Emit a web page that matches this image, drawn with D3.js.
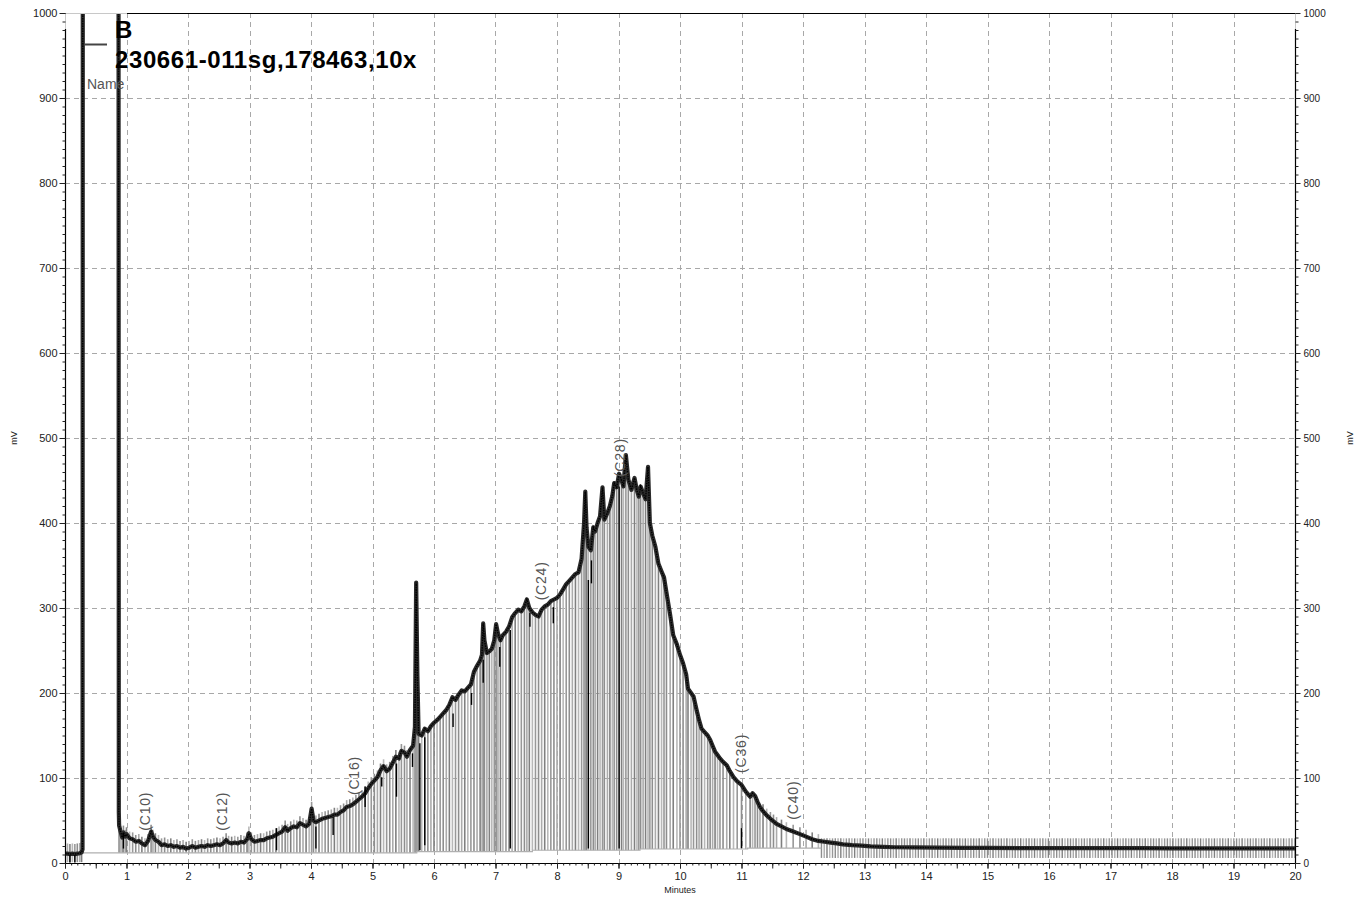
<!DOCTYPE html>
<html><head><meta charset="utf-8">
<script src="https://cdn.jsdelivr.net/npm/d3@7"></script>
<style>body{margin:0;background:#fff;} svg{display:block;font-family:"Liberation Sans",Arial,sans-serif;}</style>
</head><body><svg id="c" width="1365" height="902"></svg>
<script>
// ---- data (minutes, mV) ----
const sigTime = [0.00,0.04,0.08,0.12,0.16,0.20,0.24,0.27,0.285,0.29,0.87,0.875,0.88,0.90,0.93,0.95,0.98,1.00,1.05,1.10,1.15,1.20,1.25,1.30,1.35,1.40,1.43,1.47,1.52,1.57,1.62,1.67,1.72,1.77,1.82,1.87,1.92,1.97,2.02,2.07,2.12,2.17,2.22,2.27,2.32,2.37,2.42,2.47,2.52,2.57,2.62,2.66,2.71,2.76,2.81,2.86,2.91,2.96,2.99,3.03,3.08,3.13,3.18,3.23,3.28,3.33,3.38,3.43,3.48,3.53,3.58,3.62,3.67,3.72,3.77,3.82,3.87,3.92,3.97,4.01,4.04,4.08,4.13,4.18,4.23,4.28,4.33,4.38,4.43,4.48,4.53,4.58,4.63,4.68,4.73,4.78,4.83,4.88,4.93,4.98,5.03,5.08,5.13,5.18,5.23,5.28,5.33,5.38,5.43,5.47,5.52,5.56,5.61,5.66,5.69,5.71,5.73,5.75,5.80,5.85,5.90,5.95,6.00,6.05,6.10,6.15,6.20,6.25,6.30,6.35,6.40,6.45,6.50,6.55,6.60,6.65,6.70,6.75,6.78,6.80,6.82,6.86,6.90,6.94,6.98,7.01,7.04,7.08,7.12,7.17,7.22,7.27,7.32,7.37,7.42,7.47,7.51,7.55,7.60,7.65,7.70,7.75,7.80,7.85,7.90,7.95,8.00,8.05,8.10,8.15,8.20,8.25,8.30,8.35,8.40,8.44,8.46,8.48,8.51,8.55,8.59,8.62,8.66,8.70,8.74,8.77,8.82,8.86,8.90,8.93,8.97,9.01,9.05,9.08,9.12,9.16,9.21,9.26,9.30,9.33,9.36,9.40,9.44,9.48,9.51,9.55,9.60,9.65,9.70,9.74,9.78,9.84,9.89,9.95,10.00,10.05,10.10,10.13,10.18,10.22,10.27,10.31,10.35,10.40,10.45,10.49,10.53,10.57,10.61,10.65,10.70,10.76,10.81,10.87,10.93,11.00,11.07,11.14,11.18,11.22,11.26,11.30,11.35,11.41,11.47,11.52,11.57,11.65,11.73,11.84,11.95,12.05,12.15,12.25,12.35,12.45,12.55,12.65,12.80,12.95,13.10,13.30,13.50,13.80,14.20,14.60,15.00,15.50,16.00,16.50,17.00,17.50,18.00,18.50,19.00,19.50,20.00];
const sigMv = [11,11,10.5,11,10.5,11,11.5,12.5,16,1200,1200,60,44,38,30,36,31,34,29,28,25,26,23,21,26,37,31,27,25,21,22,20,21,19,20,18,19,17,18,20,18,19,20,19,21,20,21,22,21,23,27,24,23,24,23,25,24,28,35,28,25,26,27,27,29,30,31,33,35,37,42,38,41,43,42,47,45,43,46,64,50,48,50,52,53,54,55,57,57,60,62,66,67,69,72,75,78,82,88,93,97,101,109,114,108,111,118,125,123,132,130,125,133,138,160,330,220,152,150,158,155,161,165,168,172,176,180,186,195,192,198,203,202,206,210,225,232,238,245,282,262,247,249,252,262,281,270,262,268,272,278,289,294,298,296,302,310,300,295,292,290,298,302,304,308,310,312,316,322,328,332,336,340,342,358,400,437,395,372,368,395,390,400,408,442,404,412,420,432,447,442,458,450,443,480,451,439,453,438,431,443,435,428,466,400,385,372,352,343,336,318,292,268,257,245,235,222,205,200,196,180,168,158,154,150,145,138,131,127,123,119,115,108,101,96,92,84,78,82,79,72,66,61,56,52,49,46,43,40,37,34,31,28,26,25,24,23,22,21,20.5,19.5,19,18.5,18.3,18,17.8,17.7,17.6,17.5,17.5,17.4,17.4,17.3,17.3,17.2,17.2,17.2];

// integration baseline (step changes)
const baseTime = [0.28,5.72,7.60,9.35,11.10];
const baseMv   = [12,13.5,15,16.5,17.6];

// peak event markers (black)
const markTime = [0.08,0.16,0.95,3.44,4.08,4.36,4.88,5.15,5.39,5.65,5.77,5.85,6.31,6.61,6.80,7.07,7.24,7.56,7.94,8.51,8.56,9.01,11.00];
const markLo   = [0.5,0.5,17,15,17,33,66,90,78,113,15,21,160,186,212,231,17,278,282,17,329,17,17.6];
const markHi   = [9.5,9.5,35,41,43,54,90,101,117,129,141,148,176,200,239,254,274,294,301,333,356,443,41];

// tail hatch band (mV)
const hatchBand = [6, 29];

// compound labels
const peakNames = ["(C10)","(C12)","(C16)","(C24)","(C28)","(C36)","(C40)"];
const peakTimes = [1.30,2.55,4.70,7.74,9.02,10.99,11.84];
const peakLabelMv = [38,38,80,309,454,106,51];

// axes
const xTickValues = d3.range(0, 21, 1);
const yTickValues = d3.range(0, 1001, 100);
const legendTitle = "B";
const legendSample = "230661-011sg,178463,10x";
const legendName = "Name";

// ---- drawing ----
const svg = d3.select("#c");
const x = d3.scaleLinear([0, 20], [65, 1295]);
const y = d3.scaleLinear([0, 1000], [863, 13]);

svg.append("defs").append("clipPath").attr("id","plot")
  .append("rect").attr("x",65).attr("y",13).attr("width",1230).attr("height",850);

// grid
const grid = svg.append("g").attr("stroke","#a8a8a8").attr("stroke-dasharray","5,4").attr("stroke-width",1);
xTickValues.filter(d => d > 0 && d < 20).forEach(d => {
  grid.append("line").attr("x1",Math.round(x(d))+0.5).attr("x2",Math.round(x(d))+0.5).attr("y1",y(1000)).attr("y2",y(0));
});
yTickValues.filter(d => d > 0 && d < 1000).forEach(d => {
  grid.append("line").attr("y1",Math.round(y(d))+0.5).attr("y2",Math.round(y(d))+0.5).attr("x1",x(0)).attr("x2",x(20));
});

const plot = svg.append("g").attr("clip-path","url(#plot)");

function baseAt(t){
  let v = baseMv[0];
  for (let i = 0; i < baseTime.length; i++) if (t >= baseTime[i]) v = baseMv[i];
  return v;
}
const grays = ["#8e8e8e","#ababab","#808080","#b8b8b8","#989898"];

// tail hatch
const hatchT = d3.range(12.3, 20.0, 0.045);
plot.append("g").selectAll("line").data(hatchT).join("line")
  .attr("x1", d => x(d)).attr("x2", d => x(d))
  .attr("y1", y(hatchBand[0])).attr("y2", y(hatchBand[1]))
  .attr("stroke", (d,i) => grays[i % grays.length]).attr("stroke-width", 1.4);

// drop lines
const drops = sigTime.map((t,i) => ({t, v: sigMv[i], i})).filter(d => d.v < 1000 && d.t <= 12.3 && !(d.t > 0.27 && d.t < 0.88));
plot.append("g").selectAll("line").data(drops).join("line")
  .attr("x1", d => x(d.t)).attr("x2", d => x(d.t))
  .attr("y1", d => d.t < 0.28 ? y(1) : y(baseAt(d.t)))
  .attr("y2", d => d.t < 0.28 ? y(d.v + 12) : y(d.v + ((d.t < 5.6 || d.t > 11.3) ? 8 : 0)))
  .attr("stroke", d => grays[d.i % grays.length]).attr("stroke-width", 1.6);

// baseline
const basePts = baseTime.map((t,i) => [t, baseMv[i]]).concat([[12.3, baseMv[baseMv.length-1]]]);
plot.append("path").datum(basePts)
  .attr("d", d3.line().x(d => x(d[0])).y(d => y(d[1])).curve(d3.curveStepAfter))
  .attr("fill","none").attr("stroke","#b0b0b0").attr("stroke-width",1.2);

// signal
const sigPts = sigTime.map((t,i) => [t, sigMv[i]]);
const line = d3.line().x(d => x(d[0])).y(d => y(d[1]));
plot.append("path").datum(sigPts).attr("d", line)
  .attr("fill","none").attr("stroke","#2a2a2a").attr("stroke-width",4.2).attr("stroke-linejoin","round");
plot.append("path").datum(sigPts).attr("d", line)
  .attr("fill","none").attr("stroke","#000").attr("stroke-width",1.4).attr("stroke-dasharray","1.5,1");

// markers
plot.append("g").selectAll("line").data(markTime).join("line")
  .attr("x1", d => x(d)).attr("x2", d => x(d))
  .attr("y1", (d,i) => y(markLo[i])).attr("y2", (d,i) => y(markHi[i]))
  .attr("stroke","#000").attr("stroke-width",1.4);

// peak labels
svg.append("g").selectAll("text").data(peakNames).join("text")
  .attr("transform", (d,i) => `translate(${x(peakTimes[i])},${y(peakLabelMv[i])}) rotate(-90)`)
  .attr("dy","0.35em").attr("font-size",14).attr("fill","#555").attr("letter-spacing","0.8")
  .text(d => d);

// frame
svg.append("line").attr("x1",65).attr("x2",127).attr("y1",13.5).attr("y2",13.5).attr("stroke","#c8c8c8");
svg.append("line").attr("x1",127).attr("x2",1295).attr("y1",13.5).attr("y2",13.5).attr("stroke","#000").attr("stroke-width",1.2);
svg.append("line").attr("x1",65.5).attr("x2",65.5).attr("y1",13).attr("y2",29).attr("stroke","#c8c8c8");
svg.append("line").attr("x1",65.5).attr("x2",65.5).attr("y1",29).attr("y2",863).attr("stroke","#000").attr("stroke-width",1.2);
svg.append("line").attr("x1",1295.5).attr("x2",1295.5).attr("y1",13).attr("y2",29).attr("stroke","#c8c8c8");
svg.append("line").attr("x1",1295.5).attr("x2",1295.5).attr("y1",29).attr("y2",863).attr("stroke","#000").attr("stroke-width",1.2);
svg.append("line").attr("x1",65).attr("x2",1295).attr("y1",863.5).attr("y2",863.5).attr("stroke","#000").attr("stroke-width",1.2);

// axes
function styleAxis(g, fs){
  g.select(".domain").remove();
  g.selectAll("line").attr("stroke","#222");
  g.selectAll("text").attr("font-size",fs).attr("fill","#222").attr("font-family","Liberation Sans, Arial, sans-serif");
}
svg.append("g").attr("transform","translate(65.5,0)")
  .call(d3.axisLeft(y).tickValues(d3.range(0,1001,10)).tickSize(3).tickFormat("")).call(g => styleAxis(g,11));
svg.append("g").attr("transform","translate(65.5,0)")
  .call(d3.axisLeft(y).tickValues(yTickValues).tickSize(6).tickPadding(2).tickFormat(d3.format("d"))).call(g => styleAxis(g,11));
svg.append("g").attr("transform","translate(1295.5,0)")
  .call(d3.axisRight(y).tickValues(d3.range(0,1001,10)).tickSize(3).tickFormat("")).call(g => styleAxis(g,10));
svg.append("g").attr("transform","translate(1295.5,0)")
  .call(d3.axisRight(y).tickValues(yTickValues).tickSize(5).tickPadding(3).tickFormat(d3.format("d"))).call(g => styleAxis(g,10));
svg.append("g").attr("transform","translate(0,863.5)")
  .call(d3.axisBottom(x).tickValues(d3.range(0,20.01,0.1)).tickSize(2).tickFormat("")).call(g => styleAxis(g,11));
svg.append("g").attr("transform","translate(0,863.5)")
  .call(d3.axisBottom(x).tickValues(d3.range(0,20.01,0.5)).tickSize(5).tickFormat("")).call(g => styleAxis(g,11));
svg.append("g").attr("transform","translate(0,863.5)")
  .call(d3.axisBottom(x).tickValues(xTickValues).tickSize(5).tickPadding(4).tickFormat(d3.format("d"))).call(g => styleAxis(g,11));

// axis titles
svg.append("text").attr("transform","translate(17,438) rotate(-90)").attr("text-anchor","middle")
  .attr("font-size",9).attr("fill","#222").text("mV");
svg.append("text").attr("transform","translate(1353,438) rotate(-90)").attr("text-anchor","middle")
  .attr("font-size",9).attr("fill","#222").text("mV");
svg.append("text").attr("x",680).attr("y",893).attr("text-anchor","middle")
  .attr("font-size",9).attr("fill","#222").text("Minutes");

// legend
svg.append("line").attr("x1",84).attr("x2",107).attr("y1",44.5).attr("y2",44.5).attr("stroke","#444").attr("stroke-width",2);
svg.append("text").attr("x",115).attr("y",38).attr("font-size",24).attr("font-weight","bold").attr("fill","#000").text(legendTitle);
svg.append("text").attr("x",115).attr("y",68).attr("font-size",24).attr("font-weight","bold").attr("fill","#000").attr("letter-spacing","0.6").text(legendSample);
svg.append("text").attr("x",87).attr("y",89).attr("font-size",14).attr("fill","#555").text(legendName);
</script>
</body></html>
